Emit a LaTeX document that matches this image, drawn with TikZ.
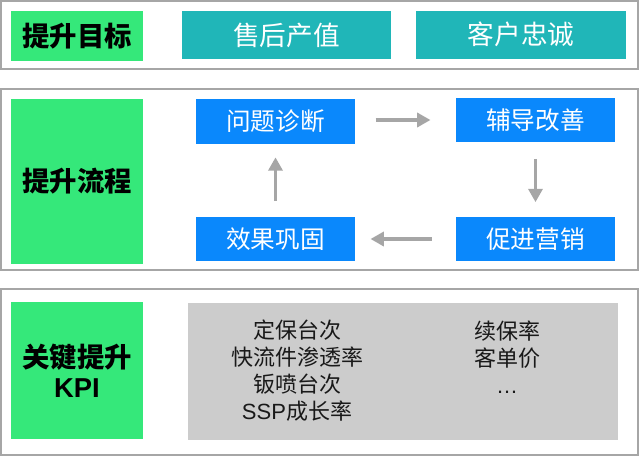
\documentclass[tikz,border=0pt]{standalone}
\usepackage{fontspec}
\setmainfont{Noto Sans CJK SC}
\newfontfamily\latinfont{Liberation Sans}
\usetikzlibrary{arrows.meta}

\definecolor{panelgray}{RGB}{166,166,166}
\definecolor{kpigreen}{RGB}{53,232,122}
\definecolor{goalteal}{RGB}{32,182,184}
\definecolor{stepblue}{RGB}{10,136,252}
\definecolor{listgray}{RGB}{204,204,204}

\tikzset{every picture/.style={line width=0.75pt}}
\tikzset{
  panel/.style={draw=panelgray, line width=1.5pt},
  titlebox/.style={fill=kpigreen, inner sep=0pt, minimum width=99pt, align=center,
    font=\fontsize{20.5pt}{22.5pt}\selectfont\bfseries},
  goalbox/.style={fill=goalteal, text=white, inner sep=0pt, minimum height=36pt,
    font=\fontsize{20pt}{24pt}\selectfont},
  stepbox/.style={fill=stepblue, text=white, inner sep=0pt, minimum width=119.25pt,
    minimum height=33.5pt, font=\fontsize{18.5pt}{22pt}\selectfont},
  flow/.style={draw=panelgray, line width=2.5pt, -{Triangle[length=10pt,width=10.5pt]}},
  kpilist/.style={align=center, text=black!90, inner sep=0pt,
    font=\fontsize{16.5pt}{20.25pt}\selectfont}
}

\begin{document}
\begin{tikzpicture}[x=0.75pt,y=0.75pt,yscale=-1,xscale=1]
	\useasboundingbox (0,0) rectangle (640,457);

	%Shape: Rectangle [goals panel]
	\draw [panel] (1,1) rectangle (637.5,68.5) ;
	%Shape: Rectangle [process panel]
	\draw [panel] (1,89) rectangle (637.5,270) ;
	%Shape: Rectangle [kpi panel]
	\draw [panel] (1,288.5) rectangle (637.5,455) ;

	% Text Node
	\draw (77,36) node [titlebox, minimum height=37.5pt] (goaltitle) {提升目标};
	% Text Node
	\draw (286.5,35) node [goalbox, minimum width=156.75pt] (aftersales) {售后产值};
	% Text Node
	\draw (521,34.5) node [goalbox, minimum width=157.5pt] (loyalty) {客户忠诚};

	% Text Node
	\draw (77,181.5) node [titlebox, minimum height=123.75pt] (flowtitle) {提升流程};
	% Text Node
	\draw (275.5,121.5) node [stepbox] (diagnose) {问题诊断};
	% Text Node
	\draw (535.5,120) node [stepbox] (coach) {辅导改善};
	% Text Node
	\draw (535.5,239) node [stepbox] (promote) {促进营销};
	% Text Node
	\draw (275.5,239) node [stepbox] (consolidate) {效果巩固};

	%Straight Lines
	\draw [flow, shorten <=15pt, shorten >=18.75pt] (diagnose.east |- coach.west) -- (coach.west) ;
	%Straight Lines
	\draw [flow, shorten <=12pt, shorten >=10.5pt] (coach.south) -- (promote.north) ;
	%Straight Lines
	\draw [flow, shorten <=18pt, shorten >=11.25pt] (promote.west) -- (consolidate.east) ;
	%Straight Lines
	\draw [flow, shorten <=11.25pt, shorten >=9.75pt] (consolidate.north) -- (diagnose.south) ;

	% Text Node
	\draw (77,370.5) node [titlebox, minimum height=102.75pt] (kpititle) {关键提升\\{\latinfont KPI}};
	%Shape: Rectangle [kpi list]
	\draw (403,371.5) node [fill=listgray, minimum width=322.5pt, minimum height=102.75pt, inner sep=0pt] (kpibox) {};
	% Text Node
	\draw (297,370.5) node [kpilist] (kpileft) {定保台次\\快流件渗透率\\钣喷台次\\{\latinfont SSP}成长率};
	% Text Node
	\draw (507,357) node [kpilist] (kpiright) {续保率\\客单价\\{\latinfont …}};

\end{tikzpicture}
\end{document}
